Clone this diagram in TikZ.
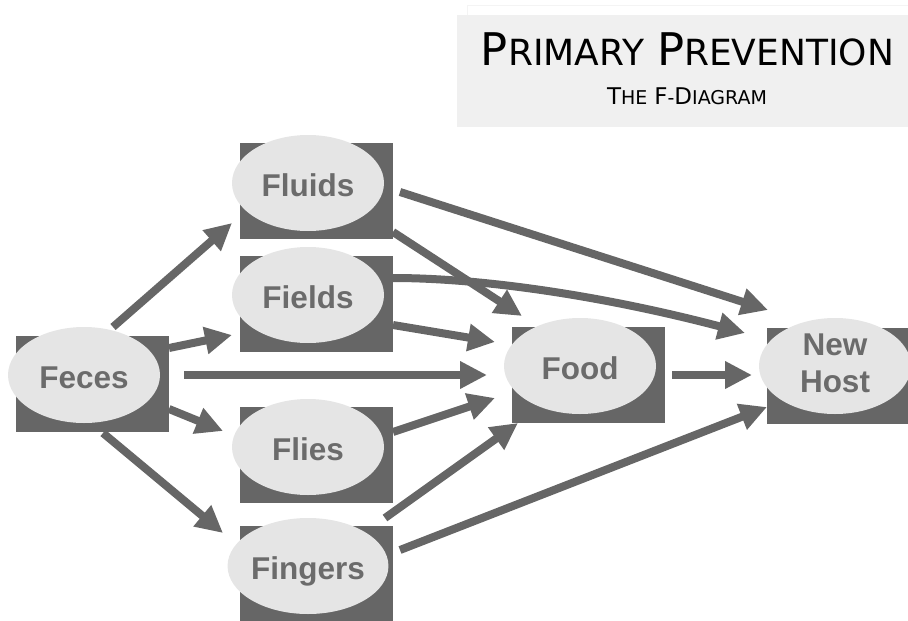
\documentclass[tikz,border=0pt]{standalone}
\usepackage{fontspec}
\setmainfont{Liberation Sans}
\newfontfamily\titlefont{DejaVu Sans}
\usetikzlibrary{arrows.meta,calc,shapes.geometric}
\definecolor{boxgray}{HTML}{666666}
\definecolor{ellgray}{HTML}{E5E5E5}
\definecolor{txtgray}{HTML}{6B6B6B}
\definecolor{titlebg}{HTML}{F0F0F0}
\definecolor{faintline}{HTML}{F4F4F4}
\newcommand\tcapA[1]{{\fontsize{45}{45}\selectfont #1}}
\newcommand\tcapB[1]{{\fontsize{36}{36}\selectfont #1}}
\newcommand\scapA[1]{{\fontsize{23}{23}\selectfont #1}}
\newcommand\scapB[1]{{\fontsize{19}{19}\selectfont #1}}
\begin{document}
\begin{tikzpicture}[x=1pt,y=-1pt,
  boxrect/.style={rectangle, fill=boxgray, minimum width=153pt, minimum height=96pt, inner sep=0pt},
  fellipse/.style={ellipse, fill=ellgray, minimum width=152pt, minimum height=96pt, inner sep=0pt,
     font=\fontsize{31.5}{37}\selectfont\bfseries, text=txtgray, align=center},
  oneline/.style={text height=26.5pt, text depth=0pt},
  arr/.style={draw=boxgray, line width=8pt, -{Triangle[length=27pt,width=26pt]}}]
\useasboundingbox (0,0) rectangle (908,621);
\clip (0,0) rectangle (908,621);
% title panel
\draw[faintline, line width=1pt] (467,15) -- (467,5) -- (920,5);
\fill[titlebg] (457,15) rectangle (920,127);
\node[anchor=base, inner sep=0pt] (title) at (687.5,65)
  {\titlefont\fontsize{36}{36}\selectfont\tcapA{P}\tcapB{RIMARY}\hspace{13pt}\tcapA{P}\tcapB{REVENTION}};
\node[anchor=base, inner sep=0pt] (subtitle) at (687,104)
  {\titlefont\fontsize{19}{19}\selectfont\scapA{T}\scapB{HE}\hspace{7pt}\scapA{F}\scapB{-}\scapA{D}\scapB{IAGRAM}};
% boxes
\node[boxrect] (fecesbox) at (92.5,383.5) {};
\node[boxrect] (fluidsbox) at (316.5,191) {};
\node[boxrect] (fieldsbox) at (316.5,303.5) {};
\node[boxrect] (fliesbox) at (316.5,455) {};
\node[boxrect] (fingersbox) at (316.5,574) {};
\node[boxrect] (foodbox) at (588.5,375) {};
\node[boxrect] (hostbox) at (843.5,375.5) {};
% ellipses
\node[fellipse, oneline] (feces) at (84,375) {Feces};
\node[fellipse, oneline] (fluids) at (308,183) {Fluids};
\node[fellipse, oneline] (fields) at (308,295) {Fields};
\node[fellipse, oneline] (flies) at (308,447) {Flies};
\node[fellipse, oneline] (fingers) at (308,566) {Fingers};
\node[fellipse, oneline] (food) at (580,366) {Food};
\node[fellipse] (host) at (835,366) {};
\node[font=\fontsize{31.5}{37}\selectfont\bfseries, text=txtgray, align=center, inner sep=0pt]
  (hostlabel) at ([yshift=3pt]host.center) {New\\Host};
% arrows
\draw[arr] ($(fecesbox)+(20.5,-56.5)$) -- ($(fluidsbox)+(-84.5,32)$);
\draw[arr] ($(fecesbox)+(76.5,-35.5)$) -- ($(fieldsbox)+(-84.5,31.5)$);
\draw[arr] ($(fecesbox)+(91.5,-8.5)$) -- ($(foodbox)+(-101.5,0)$);
\draw[arr] ($(fecesbox)+(76.5,25.5)$) -- ($(fliesbox)+(-93.5,-24)$);
\draw[arr] ($(fecesbox)+(10.5,49.5)$) -- ($(fingersbox)+(-93.5,-41)$);
\draw[arr] ($(fluidsbox)+(76.5,41)$) -- ($(foodbox)+(-66.5,-59)$);
\draw[arr] ($(fluidsbox)+(83.5,1)$) -- ($(hostbox)+(-75.5,-65.5)$);
\draw[arr] ($(fieldsbox)+(76.5,-25.5)$) .. controls (480,278) and (600,295) .. ($(hostbox)+(-98.5,-42.5)$);
\draw[arr] ($(fieldsbox)+(76.5,21.5)$) -- ($(foodbox)+(-93.5,-33)$);
\draw[arr] ($(foodbox)+(83.5,0)$) -- ($(hostbox)+(-91.5,-0.5)$);
\draw[arr] ($(fliesbox)+(76.5,-23)$) -- ($(foodbox)+(-93.5,23)$);
\draw[arr] ($(fingersbox)+(68.5,-56)$) -- ($(foodbox)+(-70.5,48)$);
\draw[arr] ($(fingersbox)+(83.5,-24)$) -- ($(hostbox)+(-76.5,31.5)$);
\end{tikzpicture}
\end{document}
